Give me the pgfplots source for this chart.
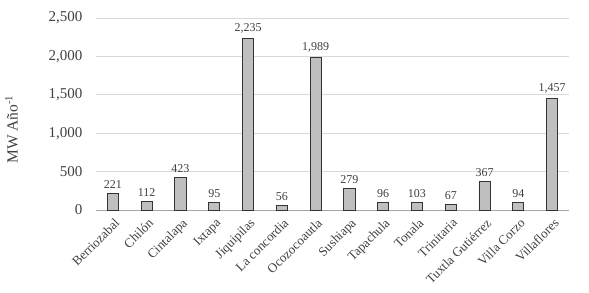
\documentclass[border=0pt]{standalone}
\usepackage{pgfplots}
\pgfplotsset{compat=1.18}
\usepackage{fontspec}
\setmainfont{Liberation Serif}
\definecolor{barfill}{HTML}{BFBFBF}
\definecolor{gridc}{HTML}{D9D9D9}
\definecolor{axc}{HTML}{A6A6A6}
\definecolor{txt}{HTML}{404040}
\begin{document}
\begin{tikzpicture}
\begin{axis}[
  name=ax,
  scale only axis,
  width=473pt, height=192pt,
  xmin=-0.5, xmax=13.5,
  ymin=0, ymax=2500,
  ytick={0,500,1000,1500,2000,2500},
  xtick={0,...,13},
  xticklabels={Berriozabal,Chilón,Cintalapa,Ixtapa,Jiquipilas,La concordia,Ocozocoautla,Sushiapa,Tapachula,Tonala,Trinitaria,Tuxtla Gutiérrez,Villa Corzo,Villaflores},
  x tick label style={xshift=1pt, yshift=-6pt, rotate=45, anchor=north east, font=\fontsize{13}{15}\selectfont, text=txt, inner sep=1pt},
  y tick label style={font=\fontsize{15}{17}\selectfont, text=txt, xshift=-10pt},
  /pgf/number format/assume math mode=true,
  /pgf/number format/1000 sep={,},
  scaled y ticks=false,
  ymajorgrids,
  grid style={gridc, line width=0.8pt},
  major tick length=0pt,
  axis x line*=bottom,
  axis y line*=left,
  x axis line style={axc, line width=0.8pt, -},
  y axis line style={draw=none},
  ylabel={MW Año\textsuperscript{-1}},
  ylabel style={font=\fontsize{15.5}{17}\selectfont, text=txt, at={(ticklabel cs:0.42)}},
  ylabel shift=24pt,
  clip=false,
  nodes near coords,
  every node near coord/.append style={font=\fontsize{12}{14}\selectfont, text=txt, anchor=south, yshift=1pt},
]
\addplot[ybar, bar width=0.33, fill=barfill, draw=black!80, line width=0.9pt] coordinates {
(0,221) (1,112) (2,423) (3,95) (4,2235) (5,56) (6,1989) (7,279) (8,96) (9,103) (10,67) (11,367) (12,94) (13,1457)
};
\end{axis}
\pgfresetboundingbox
\path[use as bounding box] ([shift={(-96pt,-83pt)}]ax.south west) rectangle ([shift={(20pt,18pt)}]ax.north east);
\end{tikzpicture}
\end{document}
